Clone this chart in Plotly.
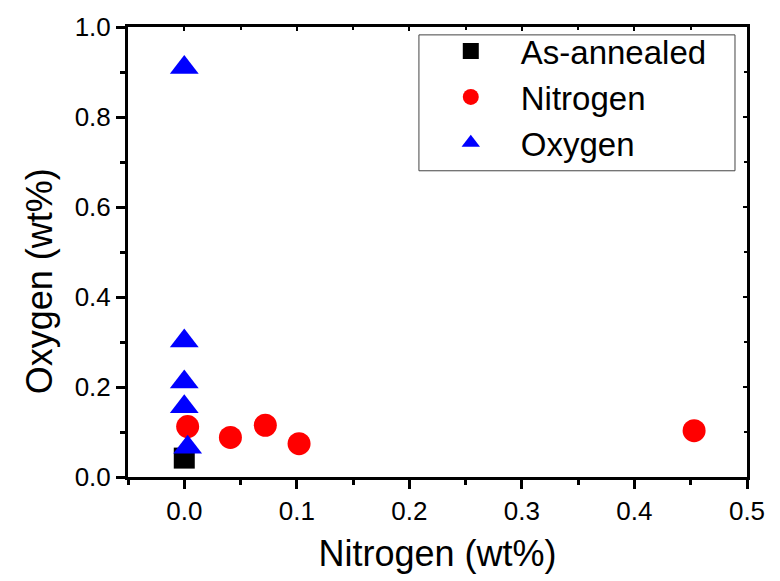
import plotly.graph_objects as go

# Data
annealed_x = [0.0]
annealed_y = [0.042]

nitrogen_x = [0.003, 0.041, 0.072, 0.102, 0.453]
nitrogen_y = [0.112, 0.088, 0.115, 0.074, 0.103]

oxygen_x = [0.0, 0.0, 0.0, 0.0, 0.003]
oxygen_y = [0.91, 0.302, 0.211, 0.156, 0.066]

x_ticks = [0.0, 0.1, 0.2, 0.3, 0.4, 0.5]
y_ticks = [0.0, 0.2, 0.4, 0.6, 0.8, 1.0]

FONT = "Liberation Sans"

fig = go.Figure()
fig.add_trace(go.Scatter(x=annealed_x, y=annealed_y, mode="markers", name="As-annealed",
                         marker=dict(symbol="square", size=21, color="#000000")))
fig.add_trace(go.Scatter(x=nitrogen_x, y=nitrogen_y, mode="markers", name="Nitrogen",
                         marker=dict(symbol="circle", size=23, color="#FF0000")))
fig.add_trace(go.Scatter(x=oxygen_x, y=oxygen_y, mode="markers", name="Oxygen",
                         marker=dict(symbol="triangle-up", size=25, color="#0000FF")))

axis_common = dict(showline=True, linecolor="black", linewidth=3, showgrid=False, zeroline=False,
                   ticks="outside", tickwidth=2.5, ticklen=9, tickcolor="black",
                   tickfont=dict(family=FONT, size=26, color="black"))

fig.update_layout(
    width=780, height=581,
    margin=dict(l=128, r=33, t=20, b=104),
    paper_bgcolor="white", plot_bgcolor="white",
    font=dict(family=FONT, color="black"),
    xaxis=dict(range=[-0.05, 0.5], tickvals=x_ticks, ticktext=[f"{v:.1f}" for v in x_ticks],
               minor=dict(ticks="outside", ticklen=5, tickwidth=2.5, tickcolor="black", dtick=0.05, tick0=0),
               title=dict(text="Nitrogen (wt%)", font=dict(family=FONT, size=36), standoff=16),
               **axis_common),
    yaxis=dict(range=[0, 1.0], tickvals=y_ticks, ticktext=[f"{v:.1f}" for v in y_ticks],
               minor=dict(ticks="outside", ticklen=5, tickwidth=2.5, tickcolor="black", dtick=0.1, tick0=0),
               **axis_common),
    xaxis2=dict(overlaying="x", side="top", range=[-0.05, 0.5], matches="x", showline=True,
                linecolor="black", linewidth=3, showgrid=False, zeroline=False, ticks="inside",
                tickvals=x_ticks, ticklen=4, tickwidth=2, tickcolor="black", showticklabels=False,
                minor=dict(ticks="inside", ticklen=3, tickwidth=2, tickcolor="black", dtick=0.05, tick0=0)),
    yaxis2=dict(overlaying="y", side="right", range=[0, 1.0], matches="y", showline=True,
                linecolor="black", linewidth=3, showgrid=False, zeroline=False, ticks="inside",
                tickvals=y_ticks, ticklen=4, tickwidth=2, tickcolor="black", showticklabels=False,
                minor=dict(ticks="inside", ticklen=3, tickwidth=2, tickcolor="black", dtick=0.1, tick0=0)),
    legend=dict(x=0.473, y=1.0088, xanchor="left", yanchor="top",
                bgcolor="rgba(0,0,0,0)", borderwidth=0,
                font=dict(family=FONT, size=33, color="black"),
                itemwidth=90, tracegroupgap=0),
    showlegend=True,
    shapes=[dict(type="rect", xref="paper", yref="paper", x0=0.470, x1=0.9806, y0=0.6805, y1=0.9825,
                 line=dict(color="#444444", width=1), fillcolor="white", layer="below")],
    annotations=[dict(text="Oxygen (wt%)", xref="paper", yref="paper", x=-0.1438, y=0.435,
                      xanchor="center", yanchor="middle", textangle=-90, showarrow=False,
                      font=dict(family=FONT, size=36, color="black"))],
)
# invisible trace to activate the mirrored axes
fig.add_trace(go.Scatter(x=[None], y=[None], xaxis="x2", yaxis="y2", showlegend=False, hoverinfo="skip"))

fig.write_html("out.html")
